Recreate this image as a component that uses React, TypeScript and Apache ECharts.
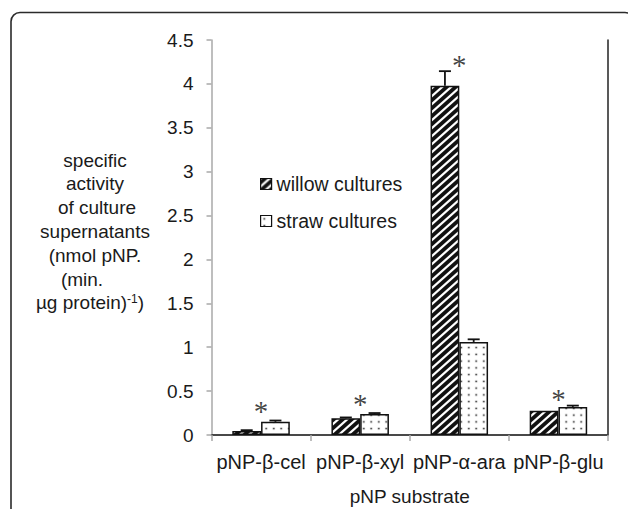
import React, { useEffect, useRef } from 'react';
import * as echarts from 'echarts';

const categories = ['pNP-β-cel', 'pNP-β-xyl', 'pNP-α-ara', 'pNP-β-glu'];
const seriesNames = ['willow cultures', 'straw cultures'];
const willowValues = [0.045, 0.19, 3.98, 0.275];
const willowErrors = [0.01, 0.01, 0.165, 0];
const strawValues = [0.15, 0.24, 1.06, 0.32];
const strawErrors = [0.015, 0.01, 0.03, 0.015];
const asteriskValues = [0.34, 0.42, 4.28, 0.48];
const yTitleLines = ['specific', 'activity', 'of culture', 'supernatants', '(nmol pNP.', '(min.', 'µg protein)'];
const yTitleSup = '-1';
const xTitle = 'pNP substrate';

const FONT = '"Liberation Sans", Arial, Helvetica, sans-serif';
const INK = '#1a1a1a';

function makeStripes() {
  const s = 4, W = 9, H = 8;
  const c = document.createElement('canvas');
  c.width = W * s; c.height = H * s;
  const ctx = c.getContext('2d')!;
  ctx.fillStyle = '#111';
  ctx.fillRect(0, 0, c.width, c.height);
  ctx.strokeStyle = '#fff';
  ctx.lineWidth = 2.2 * s;
  ctx.beginPath();
  for (let k = 0; k <= 2; k++) {
    ctx.moveTo((k * W + W / 4) * s, (-H / 4) * s);
    ctx.lineTo(((k - 1) * W - W / 4) * s, (H + H / 4) * s);
  }
  ctx.stroke();
  return { image: c, repeat: 'repeat', imageWidth: W, imageHeight: H };
}

function makeDots() {
  const s = 4, W = 7.5, H = 6.75;
  const c = document.createElement('canvas');
  c.width = W * s; c.height = H * s;
  const ctx = c.getContext('2d')!;
  ctx.fillStyle = '#fff';
  ctx.fillRect(0, 0, c.width, c.height);
  ctx.fillStyle = '#111';
  ctx.beginPath();
  ctx.arc((W / 2) * s, (H / 2) * s, 0.8 * s, 0, Math.PI * 2);
  ctx.fill();
  return { image: c, repeat: 'repeat', imageWidth: W, imageHeight: H };
}

export default function App() {
  const ref = useRef<HTMLDivElement>(null);
  useEffect(() => {
    if (!ref.current) return;
    const chart = echarts.init(ref.current, null, { renderer: 'svg' });
    const barFrac = 0.29;
    const errData: any[] = [];
    willowValues.forEach((v, i) => errData.push([i, v, willowErrors[i], -1]));
    strawValues.forEach((v, i) => errData.push([i, v, strawErrors[i], 1]));

    const titleX = [95, 95, 97, 95, 95, 82, 90];
    const titleTop = 160;
    const lh = 23.8;

    const option: any = {
      animation: false,
      backgroundColor: '#fff',
      grid: { left: 211.5, right: 20, top: 40, bottom: 74, containLabel: false, outerBoundsMode: 'none' },
      legend: {
        data: seriesNames,
        orient: 'vertical',
        left: 255,
        top: 169,
        itemWidth: 11,
        itemHeight: 11,
        itemGap: 17,
        icon: 'rect',
        itemStyle: { borderColor: '#111', borderWidth: 1.2 },
        textStyle: { fontSize: 19.5, color: INK, fontFamily: FONT },
      },
      xAxis: [
        {
          type: 'category',
          data: categories,
          position: 'bottom',
          axisLine: { lineStyle: { color: '#a8a8a8', width: 1.5 } },
          axisTick: { show: true, length: 6, lineStyle: { color: '#a8a8a8', width: 1.5 } },
          axisLabel: { fontSize: 20, color: INK, fontFamily: FONT, margin: 17, interval: 0 },
          name: xTitle,
          nameLocation: 'middle',
          nameGap: 52,
          nameTextStyle: { fontSize: 19, color: INK, fontFamily: FONT },
        },
        {
          type: 'category',
          data: categories,
          position: 'top',
          axisLine: { show: true, lineStyle: { color: '#222', width: 1.5 } },
          axisTick: { show: false },
          axisLabel: { show: false },
        },
      ],
      yAxis: [
        {
          type: 'value',
          min: 0,
          max: 4.5,
          interval: 0.5,
          axisLine: { show: true, lineStyle: { color: '#a8a8a8', width: 1.5 } },
          axisTick: { show: true, length: 5, lineStyle: { color: '#a8a8a8', width: 1.5 } },
          axisLabel: { fontSize: 19, color: INK, fontFamily: FONT, margin: 18 },
          splitLine: { show: false },
        },
        {
          type: 'value',
          min: 0,
          max: 4.5,
          interval: 0.5,
          position: 'right',
          axisLine: { show: true, lineStyle: { color: '#222', width: 1.5 } },
          axisTick: { show: false },
          axisLabel: { show: false },
          splitLine: { show: false },
        },
      ],
      series: [
        {
          name: seriesNames[0],
          type: 'bar',
          data: willowValues,
          barWidth: barFrac * 100 + '%',
          barGap: '0%',
          itemStyle: { color: makeStripes(), borderColor: '#111', borderWidth: 1.5 },
        },
        {
          name: seriesNames[1],
          type: 'bar',
          data: strawValues,
          barWidth: barFrac * 100 + '%',
          barGap: '0%',
          itemStyle: { color: makeDots(), borderColor: '#111', borderWidth: 1.5 },
        },
        {
          name: 'error',
          type: 'custom',
          data: errData,
          encode: { x: 0, y: 1 },
          z: 5,
          silent: true,
          renderItem: (params: any, api: any) => {
            const idx = api.value(0);
            const v = api.value(1);
            const e = api.value(2);
            const side = api.value(3);
            if (!e) return { type: 'group', children: [] };
            const base = api.coord([idx, v]);
            const top = api.coord([idx, v + e]);
            const band = api.size([1, 0])[0];
            const bw = band * barFrac;
            const cx = base[0] + (side * bw) / 2;
            const st = { stroke: '#111', lineWidth: 1.8 };
            return {
              type: 'group',
              children: [
                { type: 'line', shape: { x1: cx, y1: base[1], x2: cx, y2: top[1] }, style: st },
                { type: 'line', shape: { x1: cx - 6, y1: top[1], x2: cx + 6, y2: top[1] }, style: st },
              ],
            };
          },
        },
        {
          name: 'significance',
          type: 'scatter',
          data: asteriskValues.map((v, i) => [i, v]),
          symbolSize: 1,
          itemStyle: { color: 'rgba(0,0,0,0)' },
          silent: true,
          label: {
            show: true,
            position: 'inside',
            formatter: '*',
            fontFamily: '"Liberation Serif", "Times New Roman", serif',
            fontSize: 29,
            color: '#111',
            textBorderWidth: 0,
            textBorderColor: 'transparent',
            offset: [0, 6],
          },
        },
      ],
      graphic: [
        {
          type: 'rect',
          shape: { x: 11, y: 12.5, width: 623, height: 560, r: 9 },
          style: { fill: 'none', stroke: '#2b2b2b', lineWidth: 1.6 },
          silent: true,
        },
        ...yTitleLines.map((line, i) => {
          const isLast = i === yTitleLines.length - 1;
          return {
            type: 'text',
            x: titleX[i],
            y: titleTop + i * lh,
            style: {
              text: isLast ? line + '{sup|' + yTitleSup + '}' + ')' : line,
              fontSize: 19,
              fontFamily: FONT,
              fill: INK,
              textAlign: 'center',
              textVerticalAlign: 'middle',
              rich: isLast
                ? { sup: { fontSize: 12, fontFamily: FONT, fill: INK, verticalAlign: 'top', lineHeight: 20 } }
                : undefined,
            },
            silent: true,
          };
        }),
      ],
    };
    chart.setOption(option);
    return () => chart.dispose();
  }, []);
  return <div ref={ref} style={{ position: 'fixed', left: 0, top: 0, width: 628, height: 509 }} />;
}
